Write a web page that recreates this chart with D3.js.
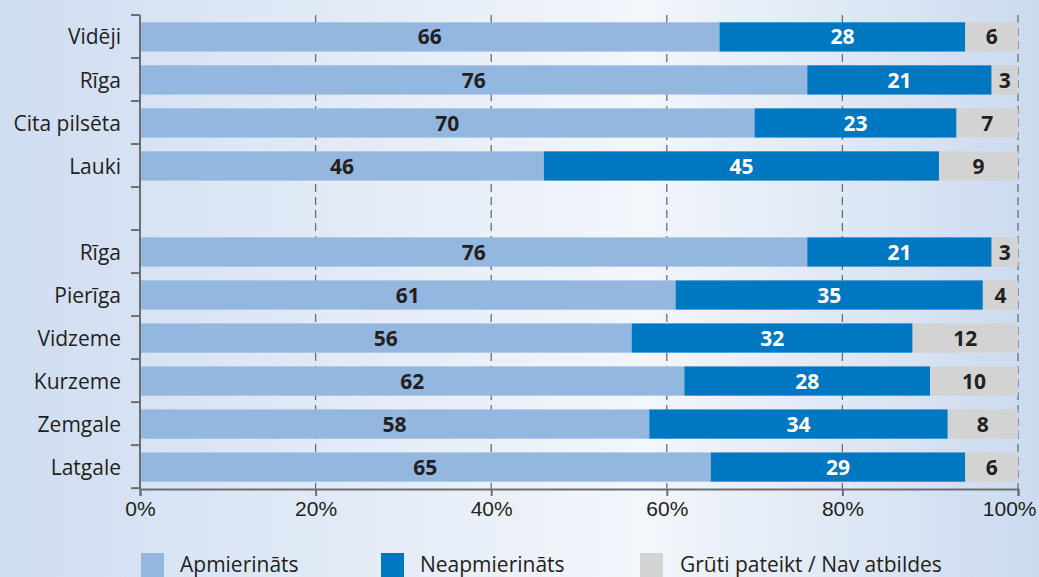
<!DOCTYPE html>
<html>
<head>
<meta charset="utf-8">
<script src="https://cdn.jsdelivr.net/npm/d3@7"></script>
<style>
  body { margin: 0; }
  svg { display: block; font-family: "Open Sans", "Noto Sans", sans-serif; }
</style>
</head>
<body>
<div id="chart"></div>
<script>
// data (an empty string marks the blank gap row)
var categories = ["Vidēji", "Rīga", "Cita pilsēta", "Lauki", "", "Rīga", "Pierīga", "Vidzeme", "Kurzeme", "Zemgale", "Latgale"];
var satisfied   = [66, 76, 70, 46, null, 76, 61, 56, 62, 58, 65];
var unsatisfied = [28, 21, 23, 45, null, 21, 35, 32, 28, 34, 29];
var noAnswer    = [6, 3, 7, 9, null, 3, 4, 12, 10, 8, 6];
var seriesNames = ["Apmierināts", "Neapmierināts", "Grūti pateikt / Nav atbildes"];
var xTicks = [0, 20, 40, 60, 80, 100];

var colors = ["#93b7df", "#0077c1", "#d3d3d3"];
var textColors = ["#231f20", "#ffffff", "#231f20"];

var W = 1039, H = 577;
var margin = {top: 15, right: 21, bottom: 88, left: 140},
    width = W - margin.left - margin.right,
    height = H - margin.top - margin.bottom;

var root = d3.select("#chart").append("svg")
    .attr("width", W)
    .attr("height", H);

// background gradient
var grad = root.append("defs").append("linearGradient")
    .attr("id", "bg").attr("x1", "0").attr("x2", "1").attr("y1", "0").attr("y2", "0");
grad.append("stop").attr("offset", "0").attr("stop-color", "#cfddf1");
grad.append("stop").attr("offset", "0.62").attr("stop-color", "#f3f6fb");
grad.append("stop").attr("offset", "1").attr("stop-color", "#cbdaef");
root.append("rect").attr("width", W).attr("height", H).attr("fill", "url(#bg)");

var svg = root.append("g")
    .attr("transform", "translate(" + margin.left + "," + margin.top + ")");

var x = d3.scaleLinear().domain([0, 100]).range([0, width]);
var y = d3.scaleBand()
    .domain(d3.range(categories.length))
    .range([0, height])
    .paddingInner(0.32)
    .paddingOuter(0.17);

// dashed grid
svg.append("g").selectAll("line")
    .data(xTicks.slice(1))
    .enter().append("line")
    .attr("x1", function (d) { return x(d); })
    .attr("x2", function (d) { return x(d); })
    .attr("y1", 0)
    .attr("y2", height)
    .attr("stroke", "#6d6e71")
    .attr("stroke-width", 1.3)
    .attr("stroke-dasharray", "8,5");

// stacked bars
var rows = categories.map(function (c, i) {
  return {i: i, vals: [satisfied[i], unsatisfied[i], noAnswer[i]]};
}).filter(function (r) { return r.vals[0] != null; });

var segs = [];
rows.forEach(function (r) {
  var acc = 0;
  r.vals.forEach(function (v, k) {
    segs.push({i: r.i, k: k, v: v, x0: acc, x1: acc + v});
    acc += v;
  });
});

svg.append("g").selectAll("rect")
    .data(segs)
    .enter().append("rect")
    .attr("x", function (d) { return x(d.x0); })
    .attr("width", function (d) { return x(d.x1) - x(d.x0); })
    .attr("y", function (d) { return y(d.i); })
    .attr("height", y.bandwidth())
    .attr("fill", function (d) { return colors[d.k]; });

svg.append("g").selectAll("text")
    .data(segs)
    .enter().append("text")
    .attr("x", function (d) { return x((d.x0 + d.x1) / 2); })
    .attr("y", function (d) { return y(d.i) + y.bandwidth() / 2; })
    .attr("dy", "0.36em")
    .attr("text-anchor", "middle")
    .attr("font-size", 21)
    .attr("font-weight", "bold")
    .attr("fill", function (d) { return textColors[d.k]; })
    .text(function (d) { return d.v; });

// axes
var xAxis = svg.append("g")
    .attr("transform", "translate(0," + height + ")")
    .call(d3.axisBottom(x).tickValues(xTicks).tickFormat(function (d) { return d + "%"; }).tickSize(7).tickPadding(5));
xAxis.select(".domain").attr("stroke", "#6d6e71").attr("stroke-width", 2);
xAxis.selectAll(".tick line").attr("stroke", "#6d6e71").attr("stroke-width", 2);
xAxis.selectAll("text").attr("font-size", 21).attr("fill", "#231f20").attr("font-family", null);
xAxis.selectAll(".tick").filter(function (d) { return d === 100; }).select("text")
    .attr("text-anchor", "end").attr("x", 18);

var step = y.step();
var yTickPos = d3.range(categories.length + 1).map(function (i) { return i * step; });
var yAxis = svg.append("g");
yAxis.append("line")
    .attr("x1", 0).attr("x2", 0).attr("y1", 0).attr("y2", height)
    .attr("stroke", "#6d6e71").attr("stroke-width", 2);
yAxis.selectAll("line.tk")
    .data(yTickPos)
    .enter().append("line")
    .attr("class", "tk")
    .attr("x1", -9).attr("x2", 0)
    .attr("y1", function (d) { return d; })
    .attr("y2", function (d) { return d; })
    .attr("stroke", "#6d6e71").attr("stroke-width", 2);
yAxis.selectAll("text")
    .data(categories.map(function (c, i) { return {c: c, i: i}; }).filter(function (d) { return d.c; }))
    .enter().append("text")
    .attr("x", -19)
    .attr("y", function (d) { return y(d.i) + y.bandwidth() / 2; })
    .attr("dy", "0.36em")
    .attr("text-anchor", "end")
    .attr("font-size", 21)
    .attr("fill", "#231f20")
    .text(function (d) { return d.c; });

// legend
var legendX = [141, 381, 640];
var legend = root.append("g").selectAll("g")
    .data(seriesNames)
    .enter().append("g")
    .attr("transform", function (d, i) { return "translate(" + legendX[i] + ",553)"; });
legend.append("rect")
    .attr("width", 23).attr("height", 24)
    .attr("fill", function (d, i) { return colors[i]; });
legend.append("text")
    .attr("x", function (d, i) { return i === 2 ? 40 : 39; })
    .attr("y", 11)
    .attr("dy", "0.36em")
    .attr("font-size", 21)
    .attr("fill", "#231f20")
    .text(function (d) { return d; });
</script>
</body>
</html>
